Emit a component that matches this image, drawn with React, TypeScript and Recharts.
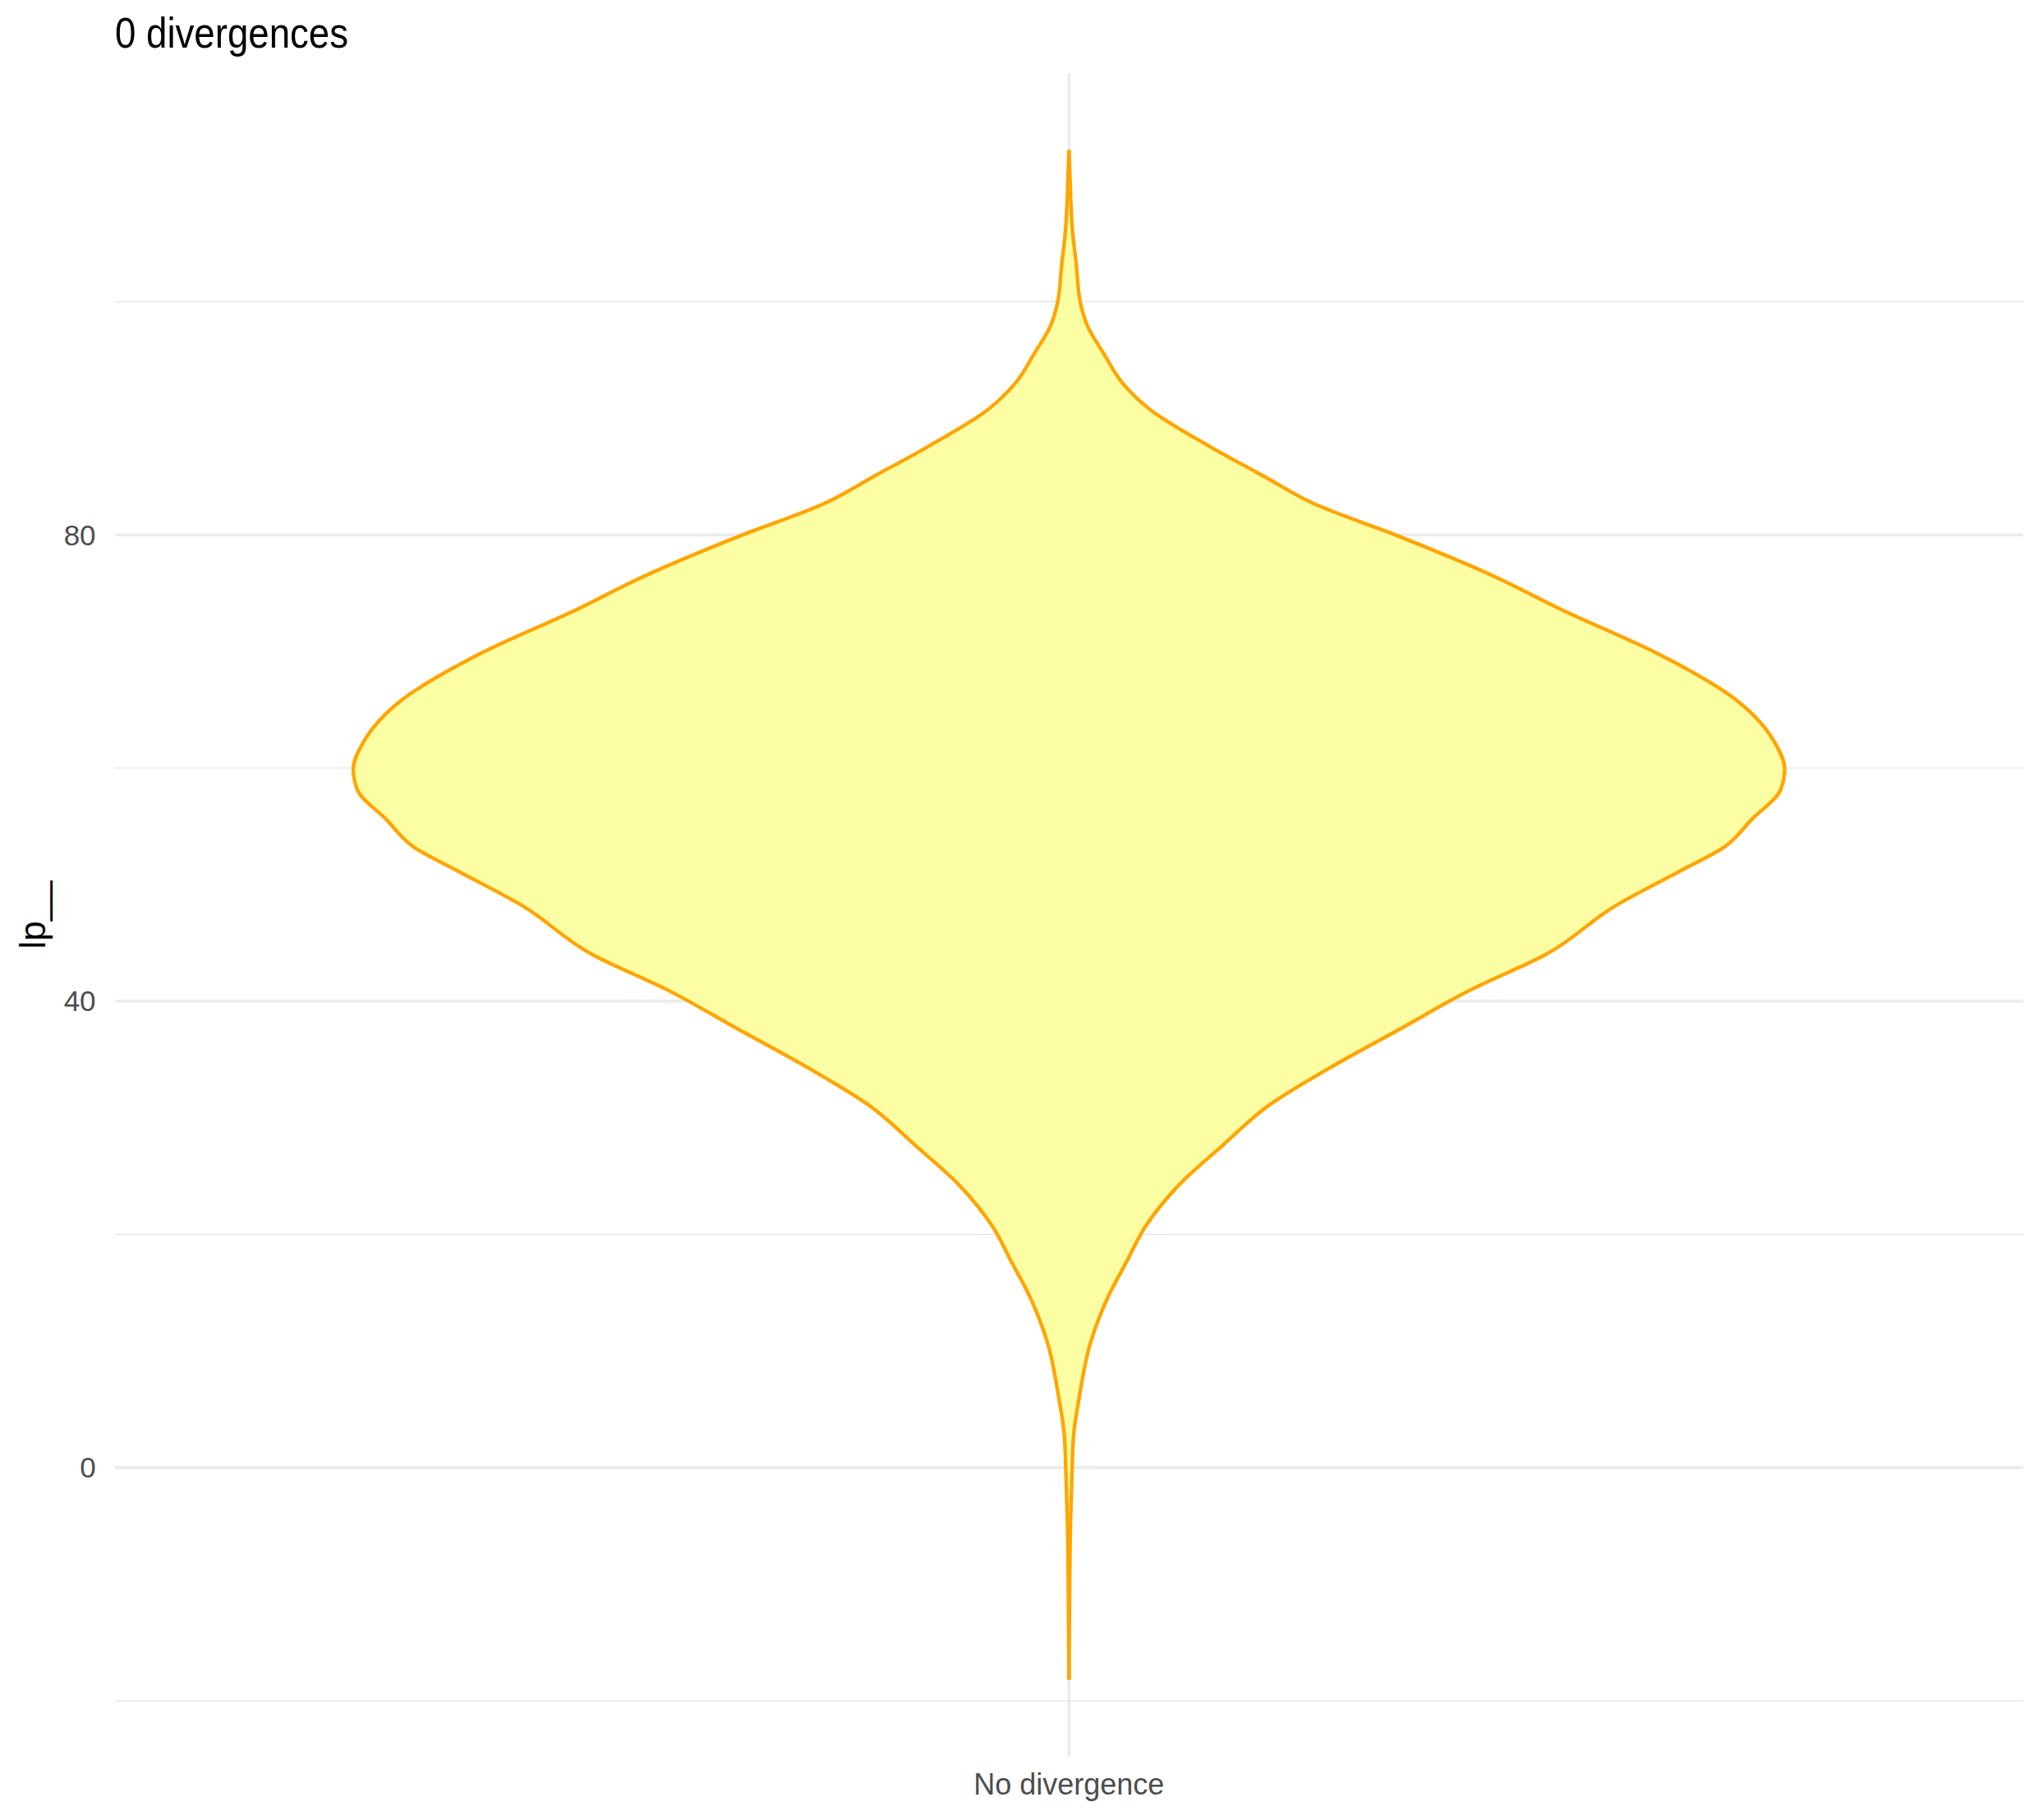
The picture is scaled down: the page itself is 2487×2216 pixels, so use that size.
import React from 'react';
import { ComposedChart, Area, XAxis, YAxis, CartesianGrid } from 'recharts';

// lp__ values (ascending) and violin half-width relative to its widest point
const lpGrid = [
    -18.2, -14, -10, -5, -0.9, 2.8, 5.9, 10.7, 14.7, 17.6, 20.7, 24.2, 27.6, 31.1,
    34.2, 37.7, 41.0, 44.0, 48.2, 51.2, 53.2, 55.6, 58.1, 59.9, 62.1, 65.7, 69.8,
    73.5, 76.5, 79.9, 82.7, 85.0, 87.6, 90.8, 93.0, 95.6, 97.9, 99.9, 103.3, 106,
    108.5, 110.5, 113.0,
];
const violinWidth = [
    0, 0.0005, 0.001, 0.002, 0.004, 0.0065, 0.014, 0.03, 0.055, 0.08, 0.107, 0.153,
    0.214, 0.28, 0.362, 0.465, 0.562, 0.666, 0.764, 0.855, 0.915, 0.954, 0.994, 1.0,
    0.987, 0.935, 0.823, 0.691, 0.592, 0.46, 0.341, 0.273, 0.196, 0.112, 0.075, 0.048,
    0.026, 0.016, 0.01, 0.005, 0.0026, 0.0015, 0,
];

const categories = ['No divergence'];
const yTicks = [0, 40, 80];
const yMinorTicks = [-20, 20, 60, 100];
const TITLE = '0 divergences';
const Y_TITLE = 'lp__';

const W = 2487;
const H = 2216;
const HALF_WIDTH = 0.45; // geom_violin width 0.9
const Y_DOMAIN = [-24.8, 119.6];
const GRID = '#EBEBEB';
const FONT = '"Liberation Sans", Arial, Helvetica, sans-serif';

const data = lpGrid.map((lp, i) => ({
    lp,
    band: [-HALF_WIDTH * violinWidth[i], HALF_WIDTH * violinWidth[i]],
}));

export default function App() {
    return (
        <div style={{ position: 'absolute', left: 0, top: 0, width: W, height: H, background: '#fff' }}>
            <ComposedChart
                width={W}
                height={H}
                data={data}
                layout="vertical"
                margin={{ top: 89, right: 24, bottom: 0, left: 0 }}
            >
                {/* minor grid */}
                <CartesianGrid yAxisId="minor" stroke={GRID} strokeWidth={1.8} vertical={false} syncWithTicks />
                {/* major grid */}
                <CartesianGrid stroke={GRID} strokeWidth={3.6} syncWithTicks />
                <XAxis
                    type="number"
                    domain={[-0.6, 0.6]}
                    ticks={[0]}
                    allowDataOverflow
                    tickFormatter={() => categories[0]}
                    axisLine={false}
                    tickLine={false}
                    tickSize={0}
                    tickMargin={20}
                    height={77}
                    tick={{ fontSize: 36, fill: '#4D4D4D', fontFamily: FONT }}
                />
                <YAxis
                    type="number"
                    dataKey="lp"
                    domain={Y_DOMAIN}
                    ticks={yTicks}
                    reversed
                    allowDataOverflow
                    axisLine={false}
                    tickLine={false}
                    tickSize={0}
                    tickMargin={23}
                    width={139.6}
                    tick={{ fontSize: 35, fill: '#4D4D4D', fontFamily: FONT }}
                />
                <YAxis
                    yAxisId="minor"
                    type="number"
                    dataKey="lp"
                    domain={Y_DOMAIN}
                    ticks={yMinorTicks}
                    reversed
                    allowDataOverflow
                    hide
                />
                <Area
                    type="monotone"
                    dataKey="band"
                    stroke="#FFA500"
                    strokeWidth={4.4}
                    fill="#FBFEA3"
                    fillOpacity={1}
                    dot={false}
                    activeDot={false}
                    isAnimationActive={false}
                />
            </ComposedChart>
            <svg width={W} height={H} style={{ position: 'absolute', left: 0, top: 0, pointerEvents: 'none' }}>
                <text x={140} y={58} fontSize={52} fontFamily={FONT} fill="#000" textLength={284} lengthAdjust="spacingAndGlyphs">
                    {TITLE}
                </text>
                <text
                    transform="translate(55,1114) rotate(-90)"
                    textAnchor="middle"
                    fontSize={44}
                    fontFamily={FONT}
                    fill="#000"
                >
                    {Y_TITLE}
                </text>
            </svg>
        </div>
    );
}
